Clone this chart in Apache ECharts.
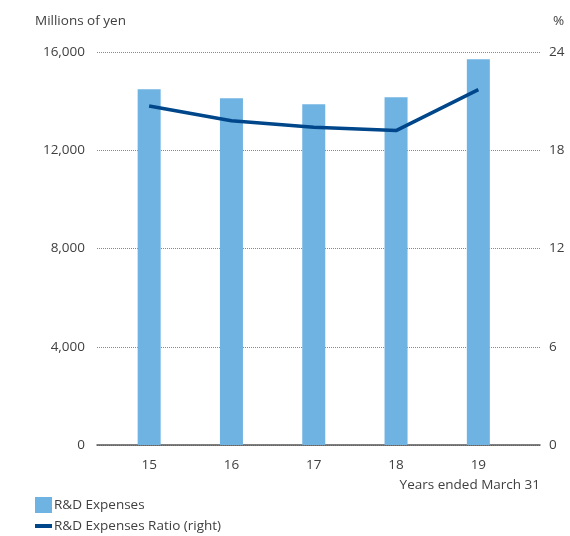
<!DOCTYPE html>
<html>
<head>
<meta charset="utf-8">
<script src="https://cdn.jsdelivr.net/npm/echarts@6/dist/echarts.min.js"></script>
<style>
  html, body { margin: 0; padding: 0; background: #fff; }
  #chart { width: 570px; height: 536px; }
</style>
</head>
<body>
<div id="chart"></div>
<script>
// data
const years = ['15', '16', '17', '18', '19']
const rdExpenses = [14480, 14120, 13870, 14160, 15700]
const rdRatio = [20.7, 19.8, 19.4, 19.2, 21.7]
const leftTicks = { min: 0, max: 16000, interval: 4000 }
const rightTicks = { min: 0, max: 24, interval: 6 }

const font = '"Open Sans", sans-serif'
const textColor = '#404040'
const fs = 13.5

const chart = echarts.init(document.getElementById('chart'))

chart.setOption({
  animation: false,
  textStyle: { fontFamily: font },
  title: [
    { text: 'Millions of yen', left: 30, top: 9, padding: 5, textStyle: { fontSize: fs, fontWeight: 'normal', color: textColor, fontFamily: font } },
    { text: '%', left: 548, top: 9, textStyle: { fontSize: fs, fontWeight: 'normal', color: textColor, fontFamily: font } },
    { text: 'Years ended March 31', right: 25, top: 473, textStyle: { fontSize: fs, fontWeight: 'normal', color: textColor, fontFamily: font } }
  ],
  legend: {
    orient: 'vertical',
    left: 35,
    top: 497,
    padding: 0,
    itemWidth: 17,
    itemHeight: 16,
    itemGap: 6,
    textStyle: { fontSize: fs, color: textColor, fontFamily: font, padding: [0, 0, 0, -3] },
    data: [
      { name: 'R&D Expenses', icon: 'rect' },
      { name: 'R&D Expenses Ratio (right)', icon: 'path://M0,0h17v4h-17z' }
    ]
  },
  // grid 0: gridlines + axis line (full width), grid 1: the series
  grid: [
    { left: 97, right: 30, top: 52, bottom: 91 },
    { left: 108, right: 50.5, top: 52, bottom: 91 }
  ],
  xAxis: [
    {
      gridIndex: 0, type: 'value', min: 0, max: 1,
      axisLine: { show: true, onZero: false, lineStyle: { color: '#555', width: 1.5 } },
      axisTick: { show: false }, axisLabel: { show: false }, splitLine: { show: false }
    },
    {
      gridIndex: 1, type: 'category', data: years,
      axisLine: { show: false }, axisTick: { show: false },
      axisLabel: { margin: 13, fontSize: fs, color: textColor, fontFamily: font }
    }
  ],
  yAxis: [
    {
      gridIndex: 0, type: 'value', ...leftTicks,
      axisLine: { show: false }, axisTick: { show: false },
      axisLabel: { margin: 12, fontSize: fs, color: textColor, fontFamily: font },
      splitLine: { lineStyle: { color: '#888', type: [1, 1], width: 1 } }
    },
    {
      gridIndex: 0, type: 'value', position: 'right', ...rightTicks,
      axisLine: { show: false }, axisTick: { show: false },
      axisLabel: { margin: 9, fontSize: fs, color: textColor, fontFamily: font },
      splitLine: { show: false }
    },
    { gridIndex: 1, type: 'value', ...leftTicks, show: false },
    { gridIndex: 1, type: 'value', position: 'right', ...rightTicks, show: false }
  ],
  series: [
    {
      name: 'R&D Expenses',
      type: 'bar',
      xAxisIndex: 1,
      yAxisIndex: 2,
      barWidth: 23,
      itemStyle: { color: '#6fb3e2' },
      data: rdExpenses
    },
    {
      name: 'R&D Expenses Ratio (right)',
      type: 'line',
      xAxisIndex: 1,
      yAxisIndex: 3,
      symbol: 'none',
      lineStyle: { color: '#00468a', width: 3.5 },
      itemStyle: { color: '#00468a' },
      data: rdRatio
    }
  ]
})
</script>
</body>
</html>
